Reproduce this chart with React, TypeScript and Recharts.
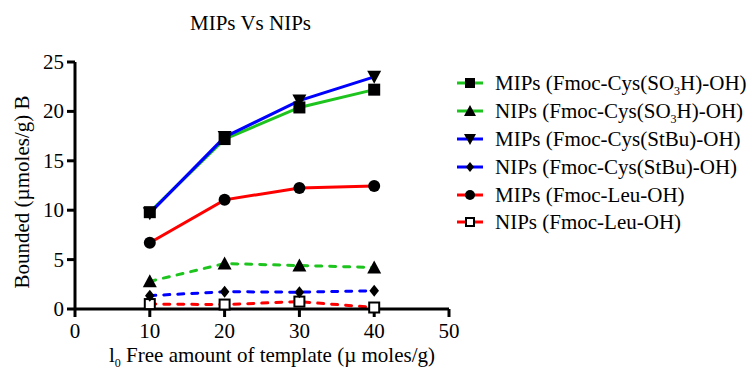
import React from 'react'
import { LineChart, Line, XAxis, YAxis, Label } from 'recharts'

// x values (template amount, µmoles/g)
const amounts = [10, 20, 30, 40]

// bounded amounts B (µmoles/g)
const mipsCysSO3H = [9.8, 17.2, 20.4, 22.2]
const nipsCysSO3H = [2.8, 4.6, 4.4, 4.2]
const mipsCysStBu = [9.7, 17.4, 21.1, 23.5]
const nipsCysStBu = [1.35, 1.75, 1.7, 1.85]
const mipsLeu = [6.7, 11.05, 12.25, 12.45]
const nipsLeu = [0.5, 0.45, 0.75, 0.15]

const xTicks = [0, 10, 20, 30, 40, 50]
const yTicks = [0, 5, 10, 15, 20, 25]

const GREEN = '#1ec41e'
const BLUE = '#0000ff'
const RED = '#ff0000'
const FONT = '"Liberation Serif", "Times New Roman", serif'

const data = amounts.map((x, i) => ({
  x,
  mipsCysSO3H: mipsCysSO3H[i],
  nipsCysSO3H: nipsCysSO3H[i],
  mipsCysStBu: mipsCysStBu[i],
  nipsCysStBu: nipsCysStBu[i],
  mipsLeu: mipsLeu[i],
  nipsLeu: nipsLeu[i],
}))

type Shape = 'square' | 'triUp' | 'triDown' | 'diamond' | 'circle' | 'openSquare'

const marker = (shape: Shape, cx: number, cy: number, s: number, key?: string) => {
  const h = s / 2
  switch (shape) {
    case 'square':
      return <rect key={key} x={cx - h} y={cy - h} width={s} height={s} fill="#000" />
    case 'openSquare':
      return <rect key={key} x={cx - h + 1} y={cy - h + 1} width={s - 2} height={s - 2} fill="#fff" stroke="#000" strokeWidth={2} />
    case 'triUp':
      return <polygon key={key} points={`${cx},${cy - h - 1} ${cx + h + 1},${cy + h} ${cx - h - 1},${cy + h}`} fill="#000" />
    case 'triDown':
      return <polygon key={key} points={`${cx},${cy + h + 1} ${cx + h + 1},${cy - h} ${cx - h - 1},${cy - h}`} fill="#000" />
    case 'diamond':
      return <polygon key={key} points={`${cx},${cy - h} ${cx + h * 0.8},${cy} ${cx},${cy + h} ${cx - h * 0.8},${cy}`} fill="#000" />
    default:
      return <circle key={key} cx={cx} cy={cy} r={h} fill="#000" />
  }
}

const subStyle: React.CSSProperties = { fontSize: 12, lineHeight: 0, verticalAlign: '-5px' }

const series: { key: string; color: string; dashed: boolean; shape: Shape; label: React.ReactNode }[] = [
  { key: 'mipsCysSO3H', color: GREEN, dashed: false, shape: 'square', label: <>MIPs (Fmoc-Cys(SO<span style={subStyle}>3</span>H)-OH)</> },
  { key: 'nipsCysSO3H', color: GREEN, dashed: true, shape: 'triUp', label: <>NIPs (Fmoc-Cys(SO<span style={subStyle}>3</span>H)-OH)</> },
  { key: 'mipsCysStBu', color: BLUE, dashed: false, shape: 'triDown', label: 'MIPs (Fmoc-Cys(StBu)-OH)' },
  { key: 'nipsCysStBu', color: BLUE, dashed: true, shape: 'diamond', label: 'NIPs (Fmoc-Cys(StBu)-OH)' },
  { key: 'mipsLeu', color: RED, dashed: false, shape: 'circle', label: 'MIPs (Fmoc-Leu-OH)' },
  { key: 'nipsLeu', color: RED, dashed: true, shape: 'openSquare', label: 'NIPs (Fmoc-Leu-OH)' },
]

// draw order so that the blue MIPs line sits over the green one like in the figure
const drawOrder = ['nipsLeu', 'nipsCysStBu', 'nipsCysSO3H', 'mipsLeu', 'mipsCysSO3H', 'mipsCysStBu']

const XTick = (p: any) => (
  <text x={p.x} y={p.y + 19} textAnchor="middle" fontSize={21} fontFamily={FONT} fill="#000">
    {p.payload.value}
  </text>
)

const YTick = (p: any) => (
  <text x={p.x - 1} y={p.y + 7} textAnchor="end" fontSize={21} fontFamily={FONT} fill="#000">
    {p.payload.value}
  </text>
)

const App = () => {
  return (
    <div style={{ position: 'absolute', left: 0, top: 0, width: 751, height: 372, background: '#fff', fontFamily: FONT }}>
      <div style={{ position: 'absolute', left: 0, top: 11, width: 501, textAlign: 'center', fontSize: 21, color: '#000' }}>
        MIPs Vs NIPs
      </div>
      <LineChart width={751} height={372} data={data} margin={{ top: 62, right: 302, bottom: 33, left: 20 }}>
        <XAxis
          dataKey="x"
          type="number"
          domain={[0, 50]}
          ticks={xTicks}
          axisLine={{ stroke: '#000', strokeWidth: 3 }}
          tickLine={{ stroke: '#000', strokeWidth: 3 }}
          tickSize={8}
          tick={<XTick />}
          height={30}
        >
          <Label
            content={() => (
              <text x={272} y={362} textAnchor="middle" fontSize={21} fontFamily={FONT} fill="#000">
                l<tspan fontSize={12} dy={5}>0</tspan>
                <tspan dy={-5}> Free amount of template (µ moles/g)</tspan>
              </text>
            )}
          />
        </XAxis>
        <YAxis
          type="number"
          domain={[0, 25]}
          ticks={yTicks}
          axisLine={{ stroke: '#000', strokeWidth: 3 }}
          tickLine={{ stroke: '#000', strokeWidth: 3 }}
          tickSize={8}
          tick={<YTick />}
          width={55}
        >
          <Label
            content={() => (
              <text x={29} y={192} transform="rotate(-90 29 192)" textAnchor="middle" fontSize={21} fontFamily={FONT} fill="#000">
                Bounded (µmoles/g) B
              </text>
            )}
          />
        </YAxis>
        {drawOrder.map(k => {
          const s = series.find(d => d.key === k)!
          return (
            <Line
              key={s.key}
              dataKey={s.key}
              type="linear"
              stroke={s.color}
              strokeWidth={3}
              strokeDasharray={s.dashed ? '6 8' : undefined}
              strokeLinecap={s.dashed ? 'round' : 'butt'}
              isAnimationActive={false}
              dot={(p: any) => marker(s.shape, p.cx, p.cy, 12, `${s.key}-${p.index}`)}
              activeDot={false}
            />
          )
        })}
      </LineChart>
      <div style={{ position: 'absolute', left: 456, top: 69 }}>
        {series.map(s => (
          <div key={s.key} style={{ display: 'flex', alignItems: 'center', height: 27.9, fontSize: 21, lineHeight: '24px', color: '#000', whiteSpace: 'nowrap' }}>
            <svg width={30} height={14} style={{ marginRight: 9 }}>
              <line x1={1} y1={7} x2={27} y2={7} stroke={s.color} strokeWidth={3} />
              {marker(s.shape, 14, 7, 10)}
            </svg>
            <span>{s.label}</span>
          </div>
        ))}
      </div>
    </div>
  )
}

export default App
